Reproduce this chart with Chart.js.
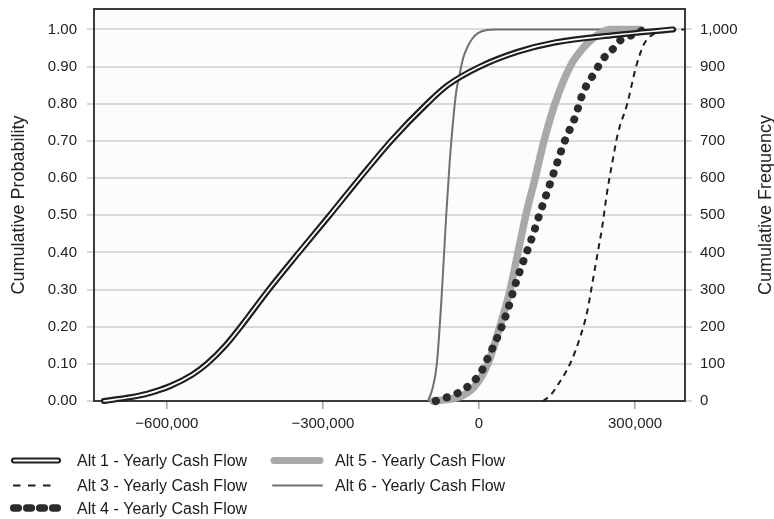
<!DOCTYPE html>
<html>
<head>
<meta charset="utf-8">
<script src="https://cdn.jsdelivr.net/npm/chart.js@4.4.1/dist/chart.umd.min.js"></script>
<style>
  html, body { margin: 0; padding: 0; background: #ffffff; }
  #wrap { width: 774px; height: 519px; }
</style>
</head>
<body>
<div id="wrap"><canvas id="cdf" width="774" height="519"></canvas></div>
<script>
// Axis ticks
const xTicks = [-600000, -300000, 0, 300000];
const probTicks = [0, 0.1, 0.2, 0.3, 0.4, 0.5, 0.6, 0.7, 0.8, 0.9, 1.0];
const freqTicks = [0, 100, 200, 300, 400, 500, 600, 700, 800, 900, 1000];

// Cumulative curves: yearly cash flow vs cumulative probability
const alt1Cash  = [-721000, -671000, -637000, -594000, -552000, -523000, -487000, -458000, -404000, -346000, -287000, -229000, -169000, -100000, -60000, 2000, 75000, 146000, 262000, 373000];
const alt1Probs = [0, 0.01, 0.02, 0.04, 0.07, 0.10, 0.15, 0.20, 0.30, 0.40, 0.50, 0.60, 0.70, 0.80, 0.85, 0.90, 0.94, 0.965, 0.985, 1.0];

const alt3Cash  = [123000, 137000, 150000, 175000, 194000, 208000, 217000, 227000, 237000, 246000, 256000, 267000, 285000, 302000, 317000, 333000, 358000, 394000];
const alt3Probs = [0, 0.015, 0.04, 0.10, 0.17, 0.24, 0.31, 0.39, 0.47, 0.56, 0.64, 0.72, 0.80, 0.90, 0.96, 0.985, 0.997, 1.0];

const alt4Cash  = [-83000, -75000, -50000, -27000, -8000, 6000, 15000, 35000, 54000, 69000, 85000, 102000, 117000, 133000, 150000, 165000, 185000, 200000, 223000, 238000, 256000, 271000, 294000, 319000];
const alt4Probs = [0, 0.005, 0.015, 0.033, 0.056, 0.083, 0.11, 0.17, 0.24, 0.31, 0.375, 0.44, 0.505, 0.57, 0.64, 0.70, 0.765, 0.83, 0.885, 0.92, 0.945, 0.97, 0.985, 1.0];

const alt5Cash  = [-88000, -56000, -31000, -8000, 17000, 40000, 60000, 75000, 90000, 108000, 125000, 146000, 175000, 200000, 223000, 252000, 310000];
const alt5Probs = [0, 0.005, 0.015, 0.04, 0.10, 0.20, 0.30, 0.40, 0.50, 0.60, 0.70, 0.80, 0.90, 0.95, 0.98, 1.0, 1.0];

const alt6Cash  = [-98000, -90000, -81000, -71000, -63000, -56000, -50000, -44000, -37000, -31000, -23000, -13000, -2000, 13000, 33000, 310000];
const alt6Probs = [0, 0.03, 0.10, 0.30, 0.50, 0.65, 0.75, 0.83, 0.88, 0.92, 0.95, 0.975, 0.99, 0.998, 1.0, 1.0];

const seriesNames = [
  'Alt 1 - Yearly Cash Flow',
  'Alt 3 - Yearly Cash Flow',
  'Alt 4 - Yearly Cash Flow',
  'Alt 5 - Yearly Cash Flow',
  'Alt 6 - Yearly Cash Flow'
];

const FONT = "'Liberation Sans', Arial, Helvetica, sans-serif";
const INK = '#1e1e1e';
const GRID = '#d9d9d9';
const ALT5_GREY = '#a9a9a9';
const ALT6_GREY = '#707070';

function pts(xs, ys) { return xs.map((x, i) => ({ x: x, y: ys[i] })); }

function fmtCash(v) {
  const s = Math.abs(v).toLocaleString('en-US');
  return v < 0 ? '\u2212' + s : s;
}

const base = { pointRadius: 0, pointHoverRadius: 0, cubicInterpolationMode: 'monotone', clip: false, fill: false };

// keep the plot box fixed: no extra padding for overhanging tick labels
function noPad(s) { s.paddingTop = 0; s.paddingBottom = 0; s.paddingLeft = 0; s.paddingRight = 0; }

// plot background + frame
const framePlugin = {
  id: 'frame',
  beforeDraw(chart) {
    const a = chart.chartArea, ctx = chart.ctx;
    ctx.save();
    ctx.fillStyle = '#fcfcfc';
    ctx.fillRect(a.left, a.top, a.right - a.left, a.bottom - a.top);
    ctx.restore();
  },
  beforeDatasetsDraw(chart) {
    const a = chart.chartArea, ctx = chart.ctx;
    ctx.save();
    ctx.strokeStyle = '#3a3a3a';
    ctx.lineWidth = 2;
    ctx.strokeRect(a.left, a.top, a.right - a.left, a.bottom - a.top);
    ctx.restore();
  }
};

// right-hand axis title (reads bottom to top) and the legend block
const extrasPlugin = {
  id: 'extras',
  afterDraw(chart) {
    const ctx = chart.ctx, a = chart.chartArea;
    ctx.save();
    ctx.fillStyle = '#222';
    ctx.font = '18px ' + FONT;
    ctx.translate(766, (a.top + a.bottom) / 2);
    ctx.rotate(-Math.PI / 2);
    ctx.textAlign = 'center';
    ctx.textBaseline = 'middle';
    ctx.fillText('Cumulative Frequency', 0, 0);
    ctx.restore();

    const rows = [460.5, 485.5, 508];
    ctx.save();
    ctx.lineCap = 'round';
    // Alt 1: outlined bar
    let y = rows[0];
    ctx.strokeStyle = INK; ctx.lineWidth = 6;
    ctx.beginPath(); ctx.moveTo(14, y); ctx.lineTo(58, y); ctx.stroke();
    ctx.strokeStyle = '#fff'; ctx.lineWidth = 2;
    ctx.beginPath(); ctx.moveTo(14, y); ctx.lineTo(58, y); ctx.stroke();
    // Alt 3: dashes
    y = rows[1];
    ctx.lineCap = 'butt';
    ctx.strokeStyle = INK; ctx.lineWidth = 2;
    [[13, 20.5], [28, 35.5], [43, 50.5]].forEach(d => {
      ctx.beginPath(); ctx.moveTo(d[0], y); ctx.lineTo(d[1], y); ctx.stroke();
    });
    // Alt 4: rounded beads
    y = rows[2];
    ctx.lineCap = 'round';
    ctx.strokeStyle = '#2b2b2b'; ctx.lineWidth = 7.5;
    [16, 29, 42, 55].forEach(cx => { ctx.beginPath(); ctx.moveTo(cx - 2.3, y); ctx.lineTo(cx + 2.3, y); ctx.stroke(); });
    // Alt 5: thick grey
    y = rows[0];
    ctx.strokeStyle = ALT5_GREY; ctx.lineWidth = 7;
    ctx.beginPath(); ctx.moveTo(274, y); ctx.lineTo(320, y); ctx.stroke();
    // Alt 6: thin grey
    y = rows[1];
    ctx.strokeStyle = ALT6_GREY; ctx.lineWidth = 2;
    ctx.beginPath(); ctx.moveTo(273, y); ctx.lineTo(322, y); ctx.stroke();

    ctx.fillStyle = '#1a1a1a';
    ctx.font = '16px ' + FONT;
    ctx.textAlign = 'left';
    ctx.textBaseline = 'alphabetic';
    const off = 5.7;
    ctx.fillText(seriesNames[0], 77, rows[0] + off);
    ctx.fillText(seriesNames[1], 77, rows[1] + off);
    ctx.fillText(seriesNames[2], 77, rows[2] + off);
    ctx.fillText(seriesNames[3], 335, rows[0] + off);
    ctx.fillText(seriesNames[4], 335, rows[1] + off);
    ctx.restore();
  }
};

Chart.defaults.font.family = FONT;

new Chart(document.getElementById('cdf'), {
  type: 'line',
  data: {
    datasets: [
      Object.assign({}, base, { label: seriesNames[0], data: pts(alt1Cash, alt1Probs), borderColor: '#ffffff', borderWidth: 1.7, borderCapStyle: 'round', order: 0 }),
      Object.assign({}, base, { label: seriesNames[0], data: pts(alt1Cash, alt1Probs), borderColor: INK, borderWidth: 6, borderCapStyle: 'round', order: 1 }),
      Object.assign({}, base, { label: seriesNames[1], data: pts(alt3Cash, alt3Probs), borderColor: INK, borderWidth: 2, borderDash: [6, 5], order: 2 }),
      Object.assign({}, base, { label: seriesNames[2], data: pts(alt4Cash, alt4Probs), borderColor: '#2b2b2b', borderWidth: 8, borderDash: [0.1, 11.5], borderCapStyle: 'round', order: 3 }),
      Object.assign({}, base, { label: seriesNames[3], data: pts(alt5Cash, alt5Probs), borderColor: ALT5_GREY, borderWidth: 7.5, borderCapStyle: 'round', order: 4 }),
      Object.assign({}, base, { label: seriesNames[4], data: pts(alt6Cash, alt6Probs), borderColor: ALT6_GREY, borderWidth: 2, order: 5 })
    ]
  },
  options: {
    responsive: false,
    animation: false,
    devicePixelRatio: 1,
    events: [],
    layout: { padding: { top: 9, bottom: 78, left: 0, right: 0 } },
    plugins: { legend: { display: false }, tooltip: { enabled: false } },
    scales: {
      x: {
        type: 'linear',
        position: 'bottom',
        min: -740000,
        max: 396000,
        afterBuildTicks: s => { s.ticks = xTicks.map(v => ({ value: v })); },
        afterFit: s => { s.height = 40; noPad(s); },
        border: { display: false },
        grid: { display: true, drawOnChartArea: false, drawTicks: true, tickLength: 8, color: '#a0a0a0', lineWidth: 1.5 },
        ticks: { autoSkip: false, maxRotation: 0, padding: 6, color: '#222', font: { size: 15 }, callback: v => fmtCash(v) }
      },
      y: {
        type: 'linear',
        position: 'left',
        min: 0,
        max: 1.055,
        afterBuildTicks: s => { s.ticks = probTicks.map(v => ({ value: v })); },
        afterFit: s => { s.width = 94; noPad(s); },
        border: { display: false },
        grid: { color: GRID, lineWidth: 2, drawTicks: true, tickLength: 7 },
        ticks: { padding: 10, color: '#222', font: { size: 15 }, callback: v => Number(v).toFixed(2) },
        title: { display: true, text: 'Cumulative Probability', color: '#222', font: { size: 18 }, padding: { top: 8, bottom: 0 } }
      },
      y2: {
        type: 'linear',
        position: 'right',
        min: 0,
        max: 1055,
        afterBuildTicks: s => { s.ticks = freqTicks.map(v => ({ value: v })); },
        afterFit: s => { s.width = 89; noPad(s); },
        border: { display: false },
        grid: { color: GRID, lineWidth: 2, drawOnChartArea: false, drawTicks: true, tickLength: 7 },
        ticks: { padding: 8, color: '#222', font: { size: 15 }, callback: v => Number(v).toLocaleString('en-US') }
      }
    }
  },
  plugins: [framePlugin, extrasPlugin]
});
</script>
</body>
</html>
